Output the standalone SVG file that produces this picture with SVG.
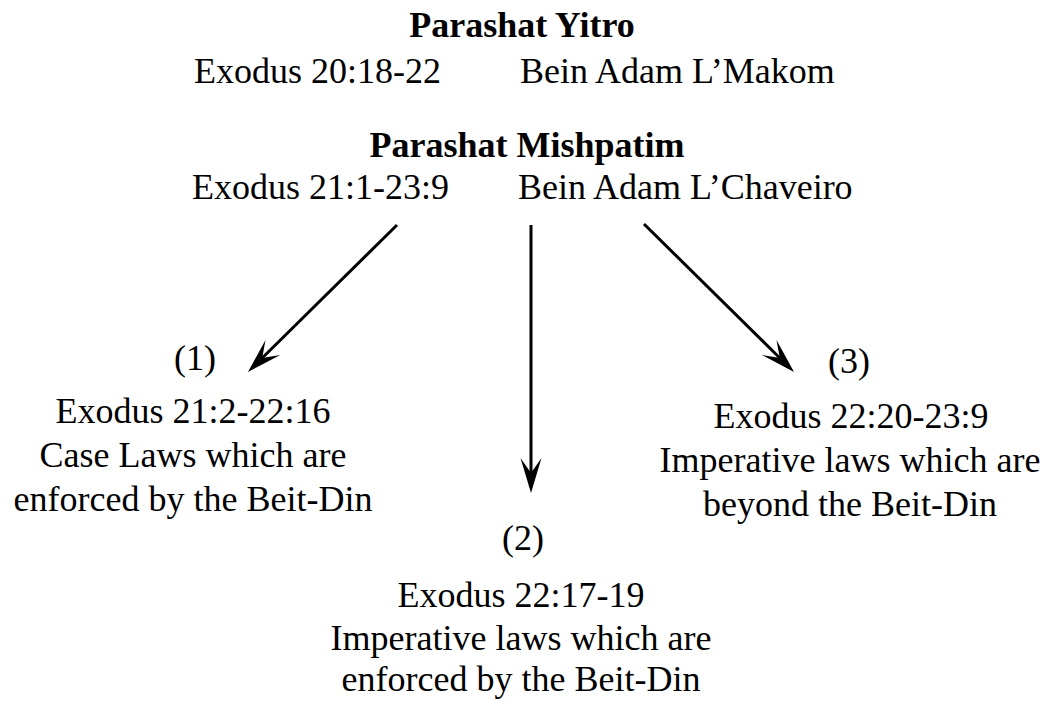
<svg xmlns="http://www.w3.org/2000/svg" width="1050" height="701" viewBox="0 0 1050 701">
<style>
text{font-family:"Liberation Serif","Times New Roman",serif;font-size:36px;fill:#000}
.b{font-weight:bold}
.c{text-anchor:middle}
.conn{stroke:#000;stroke-width:3;fill:none}
</style>
<defs>
<marker id="ah" markerUnits="userSpaceOnUse" viewBox="-37 -12 39 24" refX="-20" refY="0" markerWidth="39" markerHeight="24" orient="auto" overflow="visible">
<path d="M0,0 L-35,-10.5 L-20,0 L-35,10.5 Z" fill="#000"/>
</marker>
</defs>
<rect width="1050" height="701" fill="#fff"/>
<g id="yitro">
<text class="b c" x="522" y="37">Parashat Yitro</text>
<text x="194" y="83">Exodus 20:18-22</text>
<text x="520" y="83">Bein Adam L’Makom</text>
</g>
<g id="mishpatim">
<text class="b c" x="527" y="157">Parashat Mishpatim</text>
<text x="192" y="199">Exodus 21:1-23:9</text>
<text x="518" y="199">Bein Adam L’Chaveiro</text>
</g>
<g id="node1">
<text class="c" x="195" y="370">(1)</text>
<text class="c" x="193" y="423">Exodus 21:2-22:16</text>
<text class="c" x="193" y="467">Case Laws which are</text>
<text class="c" x="193" y="511">enforced by the Beit-Din</text>
</g>
<g id="node2">
<text class="c" x="523" y="550">(2)</text>
<text class="c" x="521" y="607">Exodus 22:17-19</text>
<text class="c" x="521" y="650">Imperative laws which are</text>
<text class="c" x="521" y="691">enforced by the Beit-Din</text>
</g>
<g id="node3">
<text class="c" x="849" y="373">(3)</text>
<text class="c" x="851" y="428">Exodus 22:20-23:9</text>
<text class="c" x="850" y="472">Imperative laws which are</text>
<text class="c" x="850" y="516">beyond the Beit-Din</text>
</g>
<g id="connectors">
<line class="conn" x1="397" y1="225" x2="262.2" y2="358" marker-end="url(#ah)"/>
<line class="conn" x1="531" y1="225" x2="531" y2="473" marker-end="url(#ah)"/>
<line class="conn" x1="644" y1="224" x2="779.8" y2="358" marker-end="url(#ah)"/>
</g>
</svg>
